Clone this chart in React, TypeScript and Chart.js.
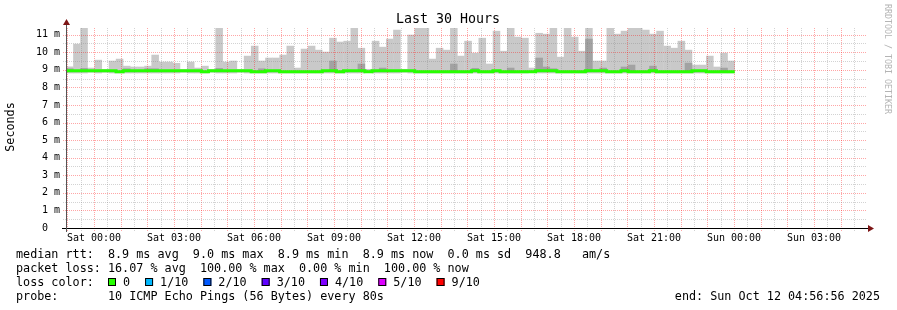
import React, { useEffect, useRef } from "react";
import { Chart, registerables } from "chart.js";

Chart.register(...registerables);

// ---- time axis (hours since window start, Fri 22:56:56) ----
const SPAN_HOURS = 30;
const STEP_HOURS = 16 / 60; // 960 s consolidation step
const FIRST_STEP_HOURS = 0.01;
const FIRST_MIDNIGHT_HOURS = 1.0511; // Sat 00:00
const X_TICK_LABELS = [
  "Sat 00:00", "Sat 03:00", "Sat 06:00", "Sat 09:00", "Sat 12:00",
  "Sat 15:00", "Sat 18:00", "Sat 21:00", "Sun 00:00", "Sun 03:00",
];

// ---- value axis (ms) ----
const Y_MAX = 11.38;
const Y_TICK_VALUES = [0, 1, 2, 3, 4, 5, 6, 7, 8, 9, 10, 11];
const Y_TICK_LABELS = ["0  ", "1 m", "2 m", "3 m", "4 m", "5 m", "6 m", "7 m", "8 m", "9 m", "10 m", "11 m"];

// ---- data: one entry per 16-minute step ----
const SMOKE_TOP = [
  9.19, 10.48, 11.45, 9.12, 9.57, 9.04, 9.52, 9.63, 9.23, 9.18,
  9.18, 9.23, 9.86, 9.46, 9.46, 9.39, 9.04, 9.46, 9.12, 9.23,
  9.04, 11.45, 9.46, 9.52, 9.04, 9.8, 10.37, 9.52, 9.69, 9.69,
  9.86, 10.37, 9.12, 10.2, 10.37, 10.14, 10.03, 10.82, 10.6, 10.65,
  11.45, 10.25, 9.05, 10.65, 10.31, 10.77, 11.28, 9.05, 11.0, 11.45,
  11.45, 9.63, 10.25, 10.14, 11.45, 9.8, 10.65, 9.97, 10.82, 9.35,
  11.22, 10.08, 11.45, 10.88, 10.82, 9.12, 11.1, 11.05, 11.45, 9.74,
  11.45, 10.88, 10.08, 11.45, 9.52, 9.52, 11.45, 11.05, 11.22, 11.45,
  11.45, 11.28, 11.05, 11.22, 10.37, 10.25, 10.65, 10.14, 9.29, 9.29,
  9.8, 9.18, 9.97, 9.52,
];
const SMOKE_LOW = [
  8.8, 8.8, 8.8, 8.84, 8.8, 8.84, 8.8, 8.8, 8.8, 8.8,
  8.8, 8.8, 8.8, 8.8, 8.8, 8.8, 8.84, 8.8, 8.8, 8.8,
  8.84, 8.8, 8.8, 8.8, 8.84, 8.8, 8.8, 8.8, 8.8, 8.8,
  8.8, 8.8, 8.8, 8.8, 8.8, 8.8, 8.8, 8.8, 8.8, 8.8,
  8.8, 8.8, 8.84, 8.8, 8.8, 8.8, 8.8, 8.84, 8.8, 8.8,
  8.8, 8.8, 8.8, 8.8, 8.8, 8.8, 8.8, 8.8, 8.8, 8.8,
  8.8, 8.8, 8.8, 8.8, 8.8, 8.84, 8.8, 8.8, 8.8, 8.8,
  8.8, 8.8, 8.8, 8.8, 8.8, 8.8, 8.8, 8.8, 8.8, 8.8,
  8.8, 8.8, 8.8, 8.8, 8.8, 8.8, 8.8, 8.8, 8.8, 8.8,
  8.8, 8.8, 8.8, 8.8,
];
const SMOKE_DARK_FLOOR = 8.92;
const SMOKE_DARK = [
  9.08, null, 9.1, null, null, null, null, null, 9.08, null,
  null, 9.08, 9.08, null, null, null, null, null, null, null,
  null, 9.1, null, null, null, null, null, 9.08, null, null,
  null, null, null, null, null, null, null, 9.52, null, null,
  null, 9.35, null, null, 9.12, null, null, null, null, null,
  null, null, null, null, 9.35, null, null, 9.1, null, null,
  null, null, 9.12, null, null, null, 9.69, 9.18, 9.08, null,
  null, null, null, 10.77, null, 9.12, null, null, 9.18, 9.29,
  null, null, 9.23, null, null, null, null, 9.4, null, null,
  null, null, 9.12, null,
];
const MEDIAN = [
  8.95, 8.95, 8.95, 8.95, 8.95, 8.95, 8.95, 8.89, 8.95, 8.95,
  8.95, 8.95, 8.95, 8.95, 8.95, 8.95, 8.95, 8.95, 8.95, 8.89,
  8.95, 8.95, 8.95, 8.95, 8.95, 8.95, 8.89, 8.89, 8.95, 8.95,
  8.89, 8.89, 8.89, 8.89, 8.89, 8.89, 8.95, 8.95, 8.89, 8.95,
  8.95, 8.95, 8.89, 8.95, 8.95, 8.95, 8.95, 8.95, 8.95, 8.89,
  8.89, 8.89, 8.89, 8.89, 8.89, 8.89, 8.89, 8.95, 8.89, 8.89,
  8.95, 8.89, 8.89, 8.89, 8.89, 8.89, 8.95, 8.95, 8.95, 8.89,
  8.89, 8.89, 8.89, 8.95, 8.95, 8.95, 8.89, 8.89, 8.95, 8.89,
  8.89, 8.89, 8.95, 8.89, 8.89, 8.89, 8.89, 8.89, 8.95, 8.95,
  8.89, 8.89, 8.89, 8.89,
];

// ---- texts ----
const TITLE = "Last 30 Hours";
const Y_TITLE = "Seconds";
const WATERMARK = "RRDTOOL / TOBI OETIKER";
const LINE_RTT = "median rtt:  8.9 ms avg  9.0 ms max  8.9 ms min  8.9 ms now  0.0 ms sd  948.8   am/s";
const LINE_LOSS = "packet loss: 16.07 % avg  100.00 % max  0.00 % min  100.00 % now";
const LINE_COLOR = "loss color:";
const LOSS_LABELS = ["0", "1/10", "2/10", "3/10", "4/10", "5/10", "9/10"];
const LOSS_COLORS = ["#26ff00", "#00b8ff", "#0059ff", "#5e00ff", "#7e00ff", "#dd00ff", "#ff0000"];
const LINE_PROBE = "probe:       10 ICMP Echo Pings (56 Bytes) every 80s";
const LINE_END = "end: Sun Oct 12 04:56:56 2025";

const MONO = '"DejaVu Sans Mono", "Liberation Mono", monospace';
const LIGHT = "#c9c9c9";
const DARK = "#a2a2a2";
const GREEN = "#26ff00";
const MAJOR = "rgba(255,0,0,0.35)";
const MINOR = "rgba(128,128,128,0.35)";
const ARROW = "#7d1616";

function drawGrid(chart: any) {
  const { ctx, chartArea: a, scales } = chart;
  const x = scales.x;
  const y = scales.y;
  ctx.save();
  ctx.lineWidth = 1;
  ctx.setLineDash([1, 1]);
  const hourBase = FIRST_MIDNIGHT_HOURS % 1;
  for (let i = 0; i <= SPAN_HOURS * 2; i++) {
    const t = hourBase + i * 0.5;
    if (t > SPAN_HOURS) break;
    const px = Math.round(x.getPixelForValue(t)) + 0.5;
    ctx.strokeStyle = i % 2 === 0 ? MAJOR : MINOR;
    ctx.beginPath();
    ctx.moveTo(px, a.top);
    ctx.lineTo(px, a.bottom + 3);
    ctx.stroke();
  }
  for (let j = 1; j * 0.5 <= Y_MAX; j++) {
    const v = j * 0.5;
    const py = Math.round(y.getPixelForValue(v)) + 0.5;
    ctx.strokeStyle = j % 2 === 0 ? MAJOR : MINOR;
    ctx.beginPath();
    ctx.moveTo(a.left - 3, py);
    ctx.lineTo(a.right, py);
    ctx.stroke();
  }
  ctx.restore();
}

function drawFrame(chart: any) {
  const { ctx, chartArea: a } = chart;
  ctx.save();
  // axes
  ctx.setLineDash([]);
  ctx.lineWidth = 1;
  ctx.strokeStyle = "#000";
  ctx.beginPath();
  ctx.moveTo(a.left - 4, a.bottom + 0.5);
  ctx.lineTo(a.right + 4, a.bottom + 0.5);
  ctx.stroke();
  ctx.strokeStyle = "#555";
  ctx.beginPath();
  ctx.moveTo(a.left + 0.5, a.bottom + 4);
  ctx.lineTo(a.left + 0.5, a.top - 4);
  ctx.stroke();
  // arrows
  ctx.fillStyle = ARROW;
  ctx.beginPath();
  ctx.moveTo(a.right + 2, a.bottom - 3);
  ctx.lineTo(a.right + 8, a.bottom + 0.5);
  ctx.lineTo(a.right + 2, a.bottom + 4);
  ctx.closePath();
  ctx.fill();
  ctx.beginPath();
  ctx.moveTo(a.left - 3, a.top - 3);
  ctx.lineTo(a.left + 0.5, a.top - 9);
  ctx.lineTo(a.left + 4, a.top - 3);
  ctx.closePath();
  ctx.fill();

  // title
  ctx.fillStyle = "#000";
  ctx.textBaseline = "middle";
  ctx.textAlign = "center";
  ctx.font = `13.3px ${MONO}`;
  ctx.fillText(TITLE, 448, 20);

  // y title
  ctx.save();
  ctx.translate(11, 127);
  ctx.rotate(-Math.PI / 2);
  ctx.font = `11.75px ${MONO}`;
  ctx.fillText(Y_TITLE, 0, 0);
  ctx.restore();

  // watermark
  ctx.save();
  ctx.translate(887, 59);
  ctx.rotate(Math.PI / 2);
  ctx.font = `8.3px ${MONO}`;
  ctx.fillStyle = "#b4b4b4";
  ctx.fillText(WATERMARK, 0, 0);
  ctx.restore();

  // legend
  ctx.textAlign = "left";
  ctx.font = `11.75px ${MONO}`;
  ctx.fillStyle = "#000";
  ctx.fillText(LINE_RTT, 16, 254.5);
  ctx.fillText(LINE_LOSS, 16, 268.5);
  ctx.fillText(LINE_COLOR, 16, 282.5);
  ctx.fillText(LINE_PROBE, 16, 296.5);
  let bx = 108;
  LOSS_LABELS.forEach((lab, i) => {
    ctx.fillStyle = LOSS_COLORS[i];
    ctx.fillRect(bx, 278, 8, 8);
    ctx.strokeStyle = "#000";
    ctx.strokeRect(bx + 0.5, 278.5, 7, 7);
    ctx.fillStyle = "#000";
    ctx.fillText(lab, bx + 15, 282.5);
    bx = bx + 15 + ctx.measureText(lab).width + 15;
  });
  ctx.textAlign = "right";
  ctx.fillText(LINE_END, 880, 296.5);
  ctx.restore();
}

const rrdPlugin = {
  id: "rrdDecor",
  afterDatasetDraw(chart: any, args: any) {
    if (args.index === 1) drawGrid(chart);
  },
  afterDraw(chart: any) {
    drawFrame(chart);
  },
};

export default function App() {
  const ref = useRef<HTMLCanvasElement>(null);
  useEffect(() => {
    document.body.style.margin = "0";
    const center = (k: number) => FIRST_STEP_HOURS + (k + 0.5) * STEP_HOURS;
    const lightData = SMOKE_TOP.map((top, k) => ({ x: center(k), y: [SMOKE_LOW[k], top] }));
    const darkData: any[] = [];
    SMOKE_DARK.forEach((d, k) => {
      if (d != null) darkData.push({ x: center(k), y: [SMOKE_DARK_FLOOR, d] });
    });
    const medianData = MEDIAN.map((m, k) => ({ x: FIRST_STEP_HOURS + k * STEP_HOURS, y: m }));
    medianData.push({ x: FIRST_STEP_HOURS + MEDIAN.length * STEP_HOURS, y: MEDIAN[MEDIAN.length - 1] });

    const chart = new Chart(ref.current as HTMLCanvasElement, {
      type: "bar",
      data: {
        datasets: [
          {
            type: "line",
            data: medianData as any,
            borderColor: GREEN,
            borderWidth: 3,
            pointRadius: 0,
            stepped: true,
            order: 0,
            borderCapStyle: "butt",
            borderJoinStyle: "miter",
          } as any,
          {
            type: "bar",
            data: darkData,
            backgroundColor: DARK,
            borderWidth: 0,
            grouped: false,
            barPercentage: 1.06,
            categoryPercentage: 1,
            order: 1,
          } as any,
          {
            type: "bar",
            data: lightData as any,
            backgroundColor: LIGHT,
            borderWidth: 0,
            grouped: false,
            barPercentage: 1.06,
            categoryPercentage: 1,
            order: 2,
          } as any,
        ],
      },
      options: {
        responsive: false,
        devicePixelRatio: 1,
        animation: false,
        events: [],
        layout: { padding: { top: 28, right: 31, bottom: 0, left: 0 } },
        plugins: { legend: { display: false }, tooltip: { enabled: false } },
        scales: {
          x: {
            type: "linear",
            min: 0,
            max: SPAN_HOURS,
            offset: false,
            grid: { display: false, drawTicks: false, offset: false },
            border: { display: false },
            afterBuildTicks: (s: any) => {
              s.ticks = X_TICK_LABELS.map((_, i) => ({ value: FIRST_MIDNIGHT_HOURS + 3 * i }));
            },
            afterFit: (s: any) => {
              s.height = 82;
            },
            ticks: {
              autoSkip: false,
              maxRotation: 0,
              minRotation: 0,
              padding: 4,
              color: "#000",
              font: { family: MONO, size: 10 },
              callback: (_v: any, i: number) => X_TICK_LABELS[i],
            },
          },
          y: {
            type: "linear",
            min: 0,
            max: Y_MAX,
            grid: { display: false, drawTicks: false },
            border: { display: false },
            afterBuildTicks: (s: any) => {
              s.ticks = Y_TICK_VALUES.map((v) => ({ value: v }));
            },
            afterFit: (s: any) => {
              s.width = 66;
            },
            ticks: {
              padding: 6,
              color: "#000",
              font: { family: MONO, size: 10 },
              callback: (_v: any, i: number) => Y_TICK_LABELS[i],
            },
          },
        },
      } as any,
      plugins: [rrdPlugin],
    });
    return () => chart.destroy();
  }, []);
  return (
    <div style={{ position: "absolute", left: 0, top: 0, width: 897, height: 310, background: "#fff" }}>
      <canvas ref={ref} width={897} height={310} style={{ display: "block", width: 897, height: 310 }} />
    </div>
  );
}
